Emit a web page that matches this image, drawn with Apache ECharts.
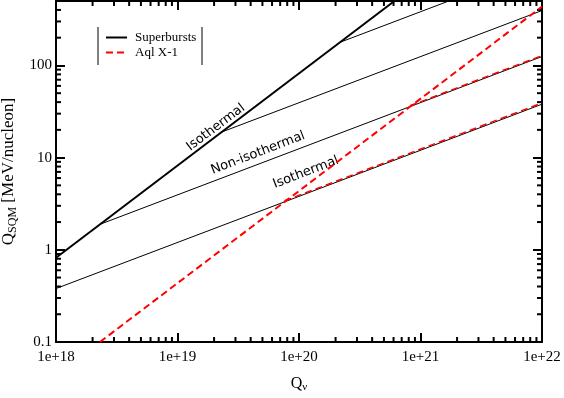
<!DOCTYPE html>
<html>
<head>
<meta charset="utf-8">
<script src="https://cdn.jsdelivr.net/npm/echarts@6/dist/echarts.min.js"></script>
<style>
  html, body { margin: 0; padding: 0; background: #fff; }
  #chart { width: 564px; height: 398px; }
</style>
</head>
<body>
<div id="chart"></div>
<script>
// Q_SQM against Q_v, both axes logarithmic
const qvRange = [1e18, 1e22]
const qRange = [0.1, 500]
const qvTickLabels = { 18: '1e+18', 19: '1e+19', 20: '1e+20', 21: '1e+21', 22: '1e+22' }
const qTickLabels = { '-1': '0.1', 0: '1', 1: '10', 2: '100' }

// superbursts: isothermal slope-1 curve and the shallower branches
const superburstsIsothermal = [[1e18, 0.82], [6.1e20, 500]]
const superburstsBranchA = [[1e18, 0.38], [1e22, 38]]
const superburstsBranchB = [[2.3e18, 1.89], [1e22, 125]]
const superburstsBranchC = [[2.3e19, 18.9], [1e22, 394]]
const superburstsBranchD = [[2.17e20, 178], [1.71e21, 500]]

// Aql X-1
const aqlSteep = [[2.3e18, 0.1], [1e22, 435]]
const aqlBranchA = [[7.6e19, 3.4], [1e22, 39.2]]
const aqlBranchB = [[8.2e20, 36.5], [1e22, 128]]

// curve annotations: [Qv, Q, text, angle in degrees]
const curveLabels = [
  [2.07e19, 21.3, 'Isothermal', 37],
  [4.6e19, 11.2, 'Non-isothermal', 21],
  [1.14e20, 6.9, 'Isothermal', 21]
]

function minorTicks(lo, hi) {
  const out = []
  for (let e = Math.floor(Math.log10(lo)); e <= Math.ceil(Math.log10(hi)); e++) {
    for (let k = 2; k <= 9; k++) {
      const v = k * Math.pow(10, e)
      if (v > lo && v < hi) out.push(v)
    }
  }
  return out
}

const serif = 'Liberation Serif, Times New Roman, serif'

function isDecade(v) {
  const l = Math.log10(v)
  return Math.abs(l - Math.round(l)) < 1e-6
}

function blackLine(data, width) {
  return {
    name: 'Superbursts',
    type: 'line',
    data: data,
    symbol: 'none',
    silent: true,
    lineStyle: { color: '#000', width: width },
    itemStyle: { color: '#000', opacity: 0, borderWidth: 0 }
  }
}

function redLine(data, width) {
  return {
    name: 'Aql X-1',
    type: 'line',
    data: data,
    symbol: 'none',
    silent: true,
    z: 3,
    lineStyle: { color: '#ff0000', width: width, type: [7, 4] },
    itemStyle: { color: '#ff0000', opacity: 0, borderWidth: 0 }
  }
}

const frameAxis = {
  axisLine: { lineStyle: { color: '#000', width: 2 } },
  axisTick: { inside: true, length: 9, lineStyle: { color: '#000', width: 2 } },
  splitLine: { show: false }
}

const chart = echarts.init(document.getElementById('chart'))

const option = {
  animation: false,
  backgroundColor: '#fff',
  grid: { left: 56, right: 22, top: 1, bottom: 56, outerBoundsMode: 'none' },
  legend: {
    data: ['Superbursts', 'Aql X-1'],
    orient: 'vertical',
    left: 105,
    top: 31,
    padding: 0,
    itemWidth: 21,
    itemHeight: 14,
    itemGap: 2,
    itemStyle: { opacity: 0, borderWidth: 0 },
    textStyle: { fontFamily: serif, fontSize: 13, color: '#000', padding: [0, 0, 0, 3] }
  },
  xAxis: [
    Object.assign({}, frameAxis, {
      type: 'log',
      min: qvRange[0],
      max: qvRange[1],
      position: 'bottom',
      axisLabel: {
        color: '#000',
        fontFamily: serif,
        fontSize: 15,
        margin: 8,
        formatter: v => isDecade(v) ? qvTickLabels[Math.round(Math.log10(v))] : ''
      },
      name: '{q|Q}{s|ν}',
      nameLocation: 'middle',
      nameGap: 32,
      nameTextStyle: {
        rich: {
          q: { fontFamily: serif, fontSize: 16, color: '#000' },
          s: { fontFamily: serif, fontSize: 11, color: '#000', verticalAlign: 'bottom', padding: [8, 0, 0, 0] }
        }
      }
    }),
    Object.assign({}, frameAxis, {
      type: 'log',
      min: qvRange[0],
      max: qvRange[1],
      position: 'top',
      axisLabel: { show: false }
    })
  ],
  yAxis: [
    Object.assign({}, frameAxis, {
      type: 'log',
      min: qRange[0],
      max: qRange[1],
      position: 'left',
      axisLabel: {
        color: '#000',
        fontFamily: serif,
        fontSize: 15,
        margin: 4,
        formatter: v => isDecade(v) ? qTickLabels[Math.round(Math.log10(v))] : ''
      },
      name: '{q|Q}{s|SQM}{t| [MeV/nucleon]}',
      nameLocation: 'middle',
      nameGap: 37,
      nameRotate: 90,
      nameTextStyle: {
        rich: {
          q: { fontFamily: serif, fontSize: 17, color: '#000' },
          s: { fontFamily: serif, fontSize: 12, color: '#000', padding: [8, 0, 0, 0] },
          t: { fontFamily: serif, fontSize: 17, color: '#000' }
        }
      }
    }),
    Object.assign({}, frameAxis, {
      type: 'log',
      min: qRange[0],
      max: qRange[1],
      position: 'right',
      axisLabel: { show: false }
    })
  ],
  series: [
    blackLine(superburstsIsothermal, 2),
    blackLine(superburstsBranchA, 1),
    blackLine(superburstsBranchB, 1),
    blackLine(superburstsBranchC, 1),
    blackLine(superburstsBranchD, 1),
    redLine(aqlSteep, 2),
    redLine(aqlBranchA, 1.5),
    redLine(aqlBranchB, 1.5),
    {
      // minor ticks on bottom and top
      type: 'custom',
      silent: true,
      data: minorTicks(qvRange[0], qvRange[1]).map(v => [v, 1]),
      renderItem: function(params, api) {
        const x = api.coord([api.value(0), 1])[0]
        const cs = params.coordSys
        const st = { stroke: '#000', lineWidth: 2 }
        return {
          type: 'group',
          children: [
            { type: 'line', shape: { x1: x, y1: cs.y + cs.height, x2: x, y2: cs.y + cs.height - 5 }, style: st },
            { type: 'line', shape: { x1: x, y1: cs.y, x2: x, y2: cs.y + 5 }, style: st }
          ]
        }
      }
    },
    {
      // minor ticks on left and right
      type: 'custom',
      silent: true,
      data: minorTicks(qRange[0], qRange[1]).map(v => [1e19, v]),
      renderItem: function(params, api) {
        const y = api.coord([1e19, api.value(1)])[1]
        const cs = params.coordSys
        const st = { stroke: '#000', lineWidth: 2 }
        return {
          type: 'group',
          children: [
            { type: 'line', shape: { x1: cs.x, y1: y, x2: cs.x + 5, y2: y }, style: st },
            { type: 'line', shape: { x1: cs.x + cs.width, y1: y, x2: cs.x + cs.width - 5, y2: y }, style: st }
          ]
        }
      }
    }
  ]
}

chart.setOption(option)

// legend box sides and curve labels, placed through the axes
const graphics = [
  { type: 'line', shape: { x1: 98, y1: 27, x2: 98, y2: 65 }, style: { stroke: '#000', lineWidth: 1 } },
  { type: 'line', shape: { x1: 202, y1: 27, x2: 202, y2: 65 }, style: { stroke: '#000', lineWidth: 1 } }
]
curveLabels.forEach(l => {
  const p = chart.convertToPixel({ xAxisIndex: 0, yAxisIndex: 0 }, [l[0], l[1]])
  graphics.push({
    type: 'text',
    x: p[0],
    y: p[1],
    rotation: l[3] * Math.PI / 180,
    style: {
      text: l[2],
      font: '13px "DejaVu Sans"',
      fill: '#000',
      align: 'center',
      verticalAlign: 'middle'
    }
  })
})
chart.setOption({ graphic: graphics })
</script>
</body>
</html>
